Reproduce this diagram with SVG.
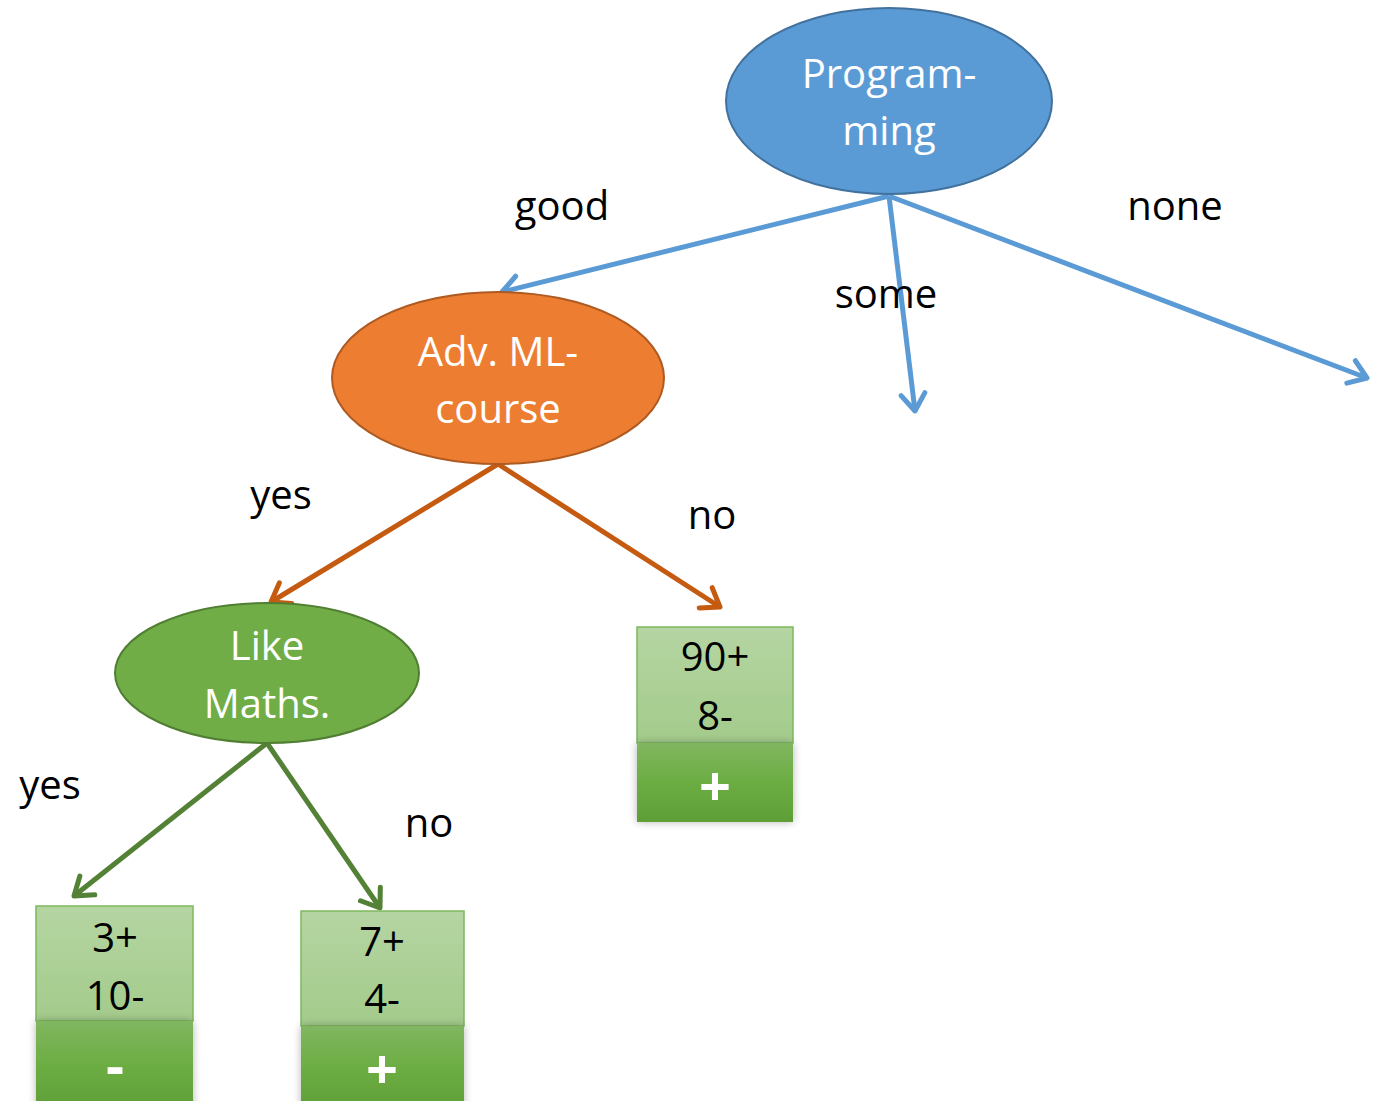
<svg xmlns="http://www.w3.org/2000/svg" width="1379" height="1101" viewBox="0 0 1379 1101">
<style>
text{font-family:"Open Sans","Liberation Sans",sans-serif;font-size:40px;text-anchor:middle}
.w{fill:#ffffff}
.k{fill:#000000}
.sym{font-size:56px;font-weight:bold}
.blue{stroke:#5b9bd5;stroke-width:5;fill:none}
.orange{stroke:#c55a11;stroke-width:5;fill:none}
.green{stroke:#538135;stroke-width:5;fill:none}
.light{fill:url(#lg);stroke:#7db85c;stroke-width:1.5}
.dark{fill:url(#dg)}
</style>
<defs>
<marker id="mb" markerUnits="userSpaceOnUse" markerWidth="34" markerHeight="34" refX="0" refY="0" viewBox="-24 -17 28 34" orient="auto"><path d="M-17 -12 L0 0 L-17 12" fill="none" stroke="#5b9bd5" stroke-width="5" stroke-linecap="round" stroke-linejoin="round"/></marker>
<marker id="mo" markerUnits="userSpaceOnUse" markerWidth="34" markerHeight="34" refX="0" refY="0" viewBox="-24 -17 28 34" orient="auto"><path d="M-17 -12 L0 0 L-17 12" fill="none" stroke="#c55a11" stroke-width="5" stroke-linecap="round" stroke-linejoin="round"/></marker>
<marker id="mg" markerUnits="userSpaceOnUse" markerWidth="34" markerHeight="34" refX="0" refY="0" viewBox="-24 -17 28 34" orient="auto"><path d="M-17 -12 L0 0 L-17 12" fill="none" stroke="#538135" stroke-width="5" stroke-linecap="round" stroke-linejoin="round"/></marker>
<linearGradient id="lg" x1="0" y1="0" x2="0" y2="1"><stop offset="0" stop-color="#b5d5a2"/><stop offset="1" stop-color="#a3cb8b"/></linearGradient>
<linearGradient id="dg" x1="0" y1="0" x2="0" y2="1"><stop offset="0" stop-color="#80b660"/><stop offset="0.5" stop-color="#6cad43"/><stop offset="1" stop-color="#5f9e37"/></linearGradient>
<filter id="sh" x="-15%" y="-15%" width="130%" height="130%"><feGaussianBlur in="SourceAlpha" stdDeviation="4"/><feComponentTransfer><feFuncA type="linear" slope="0.3"/></feComponentTransfer><feMerge><feMergeNode/><feMergeNode in="SourceGraphic"/></feMerge></filter>
</defs>
<g id="connectors">
<line class="blue" x1="889" y1="196" x2="502" y2="292" marker-end="url(#mb)"/>
<line class="blue" x1="889" y1="196" x2="915" y2="411" marker-end="url(#mb)"/>
<line class="blue" x1="889" y1="196" x2="1367" y2="378" marker-end="url(#mb)"/>
<line class="orange" x1="498" y1="464" x2="271" y2="602" marker-end="url(#mo)"/>
<line class="orange" x1="498" y1="464" x2="720" y2="607" marker-end="url(#mo)"/>
<line class="green" x1="267" y1="743" x2="74" y2="896" marker-end="url(#mg)"/>
<line class="green" x1="267" y1="743" x2="380" y2="908" marker-end="url(#mg)"/>
</g>
<g id="labels">
<text class="k" x="562" y="220">good</text>
<text class="k" x="886" y="308">some</text>
<text class="k" x="1175" y="220">none</text>
<text class="k" x="281" y="509">yes</text>
<text class="k" x="712" y="529">no</text>
<text class="k" x="50" y="799">yes</text>
<text class="k" x="429" y="837">no</text>
</g>
<g id="node-programming">
<ellipse cx="889" cy="101" rx="163" ry="93" fill="#5b9bd5" stroke="#41719c" stroke-width="2"/>
<text class="w" x="889" y="88">Program-</text>
<text class="w" x="889" y="145">ming</text>
</g>
<g id="node-advml">
<ellipse cx="498" cy="378" rx="166" ry="86" fill="#ed7d31" stroke="#ae5a21" stroke-width="2"/>
<text class="w" x="498" y="366">Adv. ML-</text>
<text class="w" x="498" y="423">course</text>
</g>
<g id="node-likemaths">
<ellipse cx="267" cy="673" rx="152" ry="70" fill="#70ad47" stroke="#507e32" stroke-width="2"/>
<text class="w" x="267" y="660">Like</text>
<text class="w" x="267" y="718">Maths.</text>
</g>
<g id="leaf-no">
<rect class="light" x="637" y="627" width="156" height="116"/>
<text class="k" x="715" y="671">90+</text>
<text class="k" x="715" y="730">8-</text>
<rect class="dark" x="637" y="743" width="156" height="79" filter="url(#sh)"/>
<text class="w sym" x="715" y="806">+</text>
</g>
<g id="leaf-yes-yes">
<rect class="light" x="36" y="906" width="157" height="115"/>
<text class="k" x="115" y="952">3+</text>
<text class="k" x="115" y="1010">10-</text>
<rect class="dark" x="36" y="1021" width="157" height="90" filter="url(#sh)"/>
<text class="w sym" x="115" y="1086">-</text>
</g>
<g id="leaf-yes-no">
<rect class="light" x="301" y="911" width="163" height="115"/>
<text class="k" x="382" y="956">7+</text>
<text class="k" x="382" y="1013">4-</text>
<rect class="dark" x="301" y="1026" width="163" height="85" filter="url(#sh)"/>
<text class="w sym" x="382" y="1089">+</text>
</g>
</svg>
